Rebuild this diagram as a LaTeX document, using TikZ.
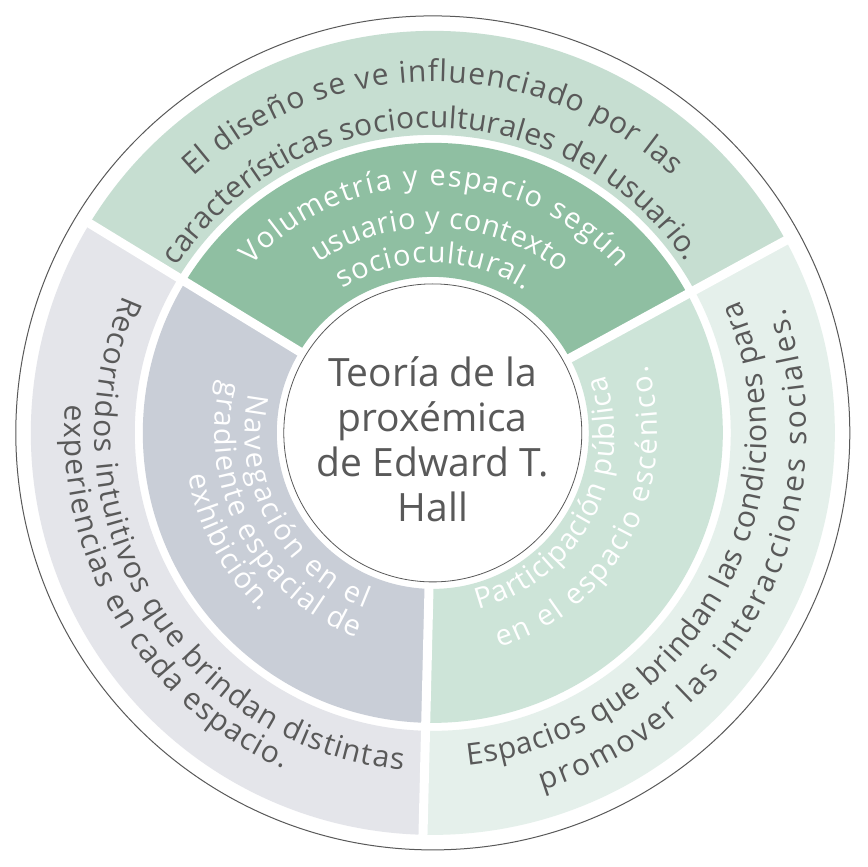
\documentclass[tikz,border=0pt]{standalone}
\usepackage{fontspec}
\setmainfont{Open Sans}
\usetikzlibrary{decorations.text}
\definecolor{topout}{HTML}{C6DED1}
\definecolor{topin}{HTML}{8FBFA2}
\definecolor{leftout}{HTML}{E4E5EA}
\definecolor{leftin}{HTML}{C9CED7}
\definecolor{rightout}{HTML}{E5F0EB}
\definecolor{rightin}{HTML}{CDE4D8}
\definecolor{tgray}{HTML}{595959}
\newcommand\ringseg[5]{% colour, a1, a2, r1, r2
  \fill[#1] (#2:#4) arc[start angle=#2, end angle=#3, radius=#4] -- (#3:#5) arc[start angle=#3, end angle=#2, radius=#5] -- cycle;}
\newcommand\arctext[5]{% radius, start, end, format, text
  \path[decorate, decoration={text along path, text align=fit to path, text={|#4|#5}}] (#2:#1) arc[start angle=#2, end angle=#3, radius=#1];}
\newcommand\outfmt{\fontsize{30}{30}\selectfont\color{tgray}}
\newcommand\infmt{\fontsize{29}{29}\selectfont\color{white}}
\tikzset{sepline/.style={white, line width=9pt}}
\begin{document}
\begin{tikzpicture}[x=1pt,y=1pt]
\useasboundingbox (-432.8,-434.1) rectangle (434.2,432.9);
\fill[white] (-432.8,-434.1) rectangle (434.2,432.9);
% outer ring
\ringseg{topout}{28.6}{148.6}{298}{402}
\ringseg{leftout}{148.6}{268.6}{298}{402}
\ringseg{rightout}{268.6}{388.6}{298}{402}
% inner ring
\ringseg{topin}{28.6}{148.6}{156}{290}
\ringseg{leftin}{148.6}{268.6}{156}{290}
\ringseg{rightin}{268.6}{388.6}{156}{290}
% separators
\coordinate (o) at (0,0);
\coordinate (s1) at (28.6:410);
\coordinate (s2) at (148.6:410);
\coordinate (s3) at (268.6:410);
\draw[sepline] (o) -- (s1);
\draw[sepline] (o) -- (s2);
\draw[sepline] (o) -- (s3);
% outer circle
\draw[tgray, line width=1pt] (0,0) circle[radius=417];
% hub
\node[draw=tgray, fill=white, circle, minimum size=298pt, inner sep=0pt, line width=0.8pt] (hub) at (0,0) {};
\node[text=tgray, align=center, font=\fontsize{39}{45}\selectfont] (hubtext) at (0,-6) {Teoría de la\\proxémica\\de Edward T.\\Hall};
% top outer texts
\arctext{351}{133}{47}{\outfmt}{El diseño se ve influenciado por las}
\arctext{305}{147}{34}{\outfmt}{características socioculturales del usuario.}
% left outer texts
\arctext{338}{156}{265}{\outfmt}{Recorridos intuitivos que brindan distintas}
\arctext{368}{175.5}{246}{\outfmt}{experiencias en cada espacio.}
% right outer texts
\arctext{334}{276}{383.5}{\outfmt}{Espacios que brindan las condiciones para}
\arctext{374}{287}{379.5}{\outfmt}{promover las interacciones sociales.}
% top inner texts
\arctext{247}{137.3}{41.6}{\infmt}{Volumetría y espacio según}
\arctext{205}{124}{51.5}{\infmt}{usuario y contexto}
\arctext{170}{122}{57}{\infmt}{sociocultural.}
% left inner texts
\arctext{188}{168}{248.8}{\infmt}{Navegación en el}
\arctext{218}{166}{249.5}{\infmt}{gradiente espacial de}
\arctext{248}{189.8}{226.3}{\infmt}{exhibición.}
% right inner texts
\arctext{182}{284.5}{378.5}{\infmt}{Participación pública}
\arctext{225}{287.2}{377.5}{\infmt}{en el espacio escénico.}
\end{tikzpicture}
\end{document}
